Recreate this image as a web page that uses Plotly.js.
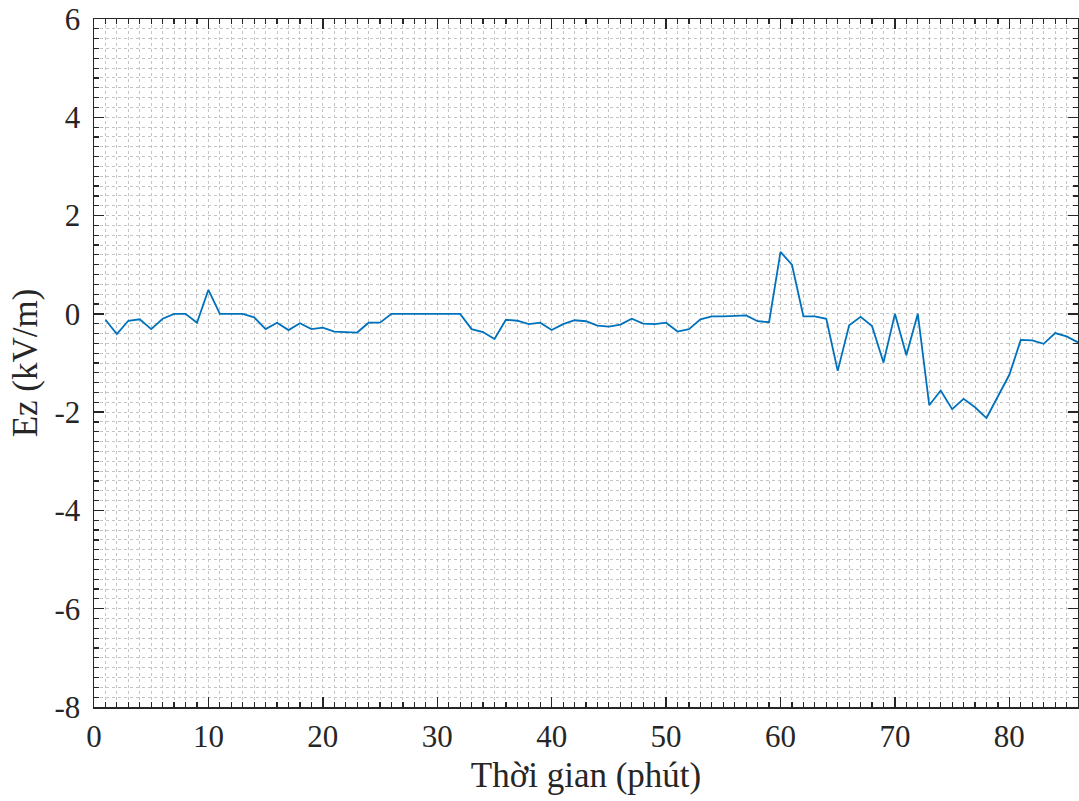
<!DOCTYPE html>
<html>
<head>
<meta charset="utf-8">
<script src="https://cdn.plot.ly/plotly-3.0.1.min.js"></script>
<style>
  html, body { margin: 0; padding: 0; background: #fff; }
  #chart { width: 1079px; height: 801px; }
</style>
</head>
<body>
<div id="chart"></div>
<script>
// Thời gian (phút)
const minutes = [
  1, 2, 3, 4, 5, 6, 7, 8, 9, 10,
  11, 12, 13, 14, 15, 16, 17, 18, 19, 20,
  21, 22, 23, 24, 25, 26, 27, 28, 29, 30,
  31, 32, 33, 34, 35, 36, 37, 38, 39, 40,
  41, 42, 43, 44, 45, 46, 47, 48, 49, 50,
  51, 52, 53, 54, 55, 56, 57, 58, 59, 60,
  61, 62, 63, 64, 65, 66, 67, 68, 69, 70,
  71, 72, 73, 74, 75, 76, 77, 78, 79, 80,
  81, 82, 83, 84, 85, 86
];

// Ez (kV/m)
const ez = [
  -0.12, -0.41, -0.14, -0.11, -0.31, -0.10, 0.00, 0.00, -0.18, 0.49,
  0.00, 0.00, 0.00, -0.07, -0.31, -0.18, -0.33, -0.19, -0.31, -0.28,
  -0.36, -0.37, -0.38, -0.18, -0.18, 0.00, 0.00, 0.00, 0.00, 0.00,
  0.00, 0.00, -0.31, -0.37, -0.51, -0.12, -0.14, -0.21, -0.18, -0.33,
  -0.21, -0.13, -0.15, -0.24, -0.26, -0.22, -0.10, -0.20, -0.21, -0.18,
  -0.36, -0.31, -0.11, -0.05, -0.05, -0.04, -0.03, -0.15, -0.17, 1.26,
  1.00, -0.05, -0.05, -0.10, -1.16, -0.23, -0.06, -0.25, -0.99, 0.00,
  -0.84, 0.00, -1.86, -1.56, -1.94, -1.73, -1.90, -2.12, -1.67, -1.24,
  -0.53, -0.54, -0.61, -0.39, -0.46, -0.58
];

const xTicks = [0, 10, 20, 30, 40, 50, 60, 70, 80];
const yTicks = [-8, -6, -4, -2, 0, 2, 4, 6];

const serif = 'Liberation Serif';
const axisColor = '#262626';
const gridColor = '#c4c4c4';

const axisCommon = {
  showline: true,
  linecolor: axisColor,
  linewidth: 1.5,
  mirror: 'allticks',
  ticks: 'inside',
  ticklen: 10,
  tickwidth: 1.5,
  tickcolor: axisColor,
  showgrid: true,
  gridcolor: gridColor,
  griddash: 'dot',
  gridwidth: 1,
  zeroline: false,
  automargin: false,
  tickfont: { family: serif, size: 31, color: axisColor },
  tickmode: 'array'
};

const trace = {
  x: minutes,
  y: ez,
  type: 'scatter',
  mode: 'lines',
  line: { color: '#0072BD', width: 1.8 },
  hoverinfo: 'x+y'
};

const layout = {
  width: 1079,
  height: 801,
  margin: { l: 94, r: 1, t: 19, b: 94 },
  paper_bgcolor: '#ffffff',
  plot_bgcolor: '#ffffff',
  showlegend: false,
  font: { family: serif, color: axisColor },
  xaxis: Object.assign({}, axisCommon, {
    range: [0, 86],
    tickvals: xTicks,
    ticktext: xTicks.map(String),
    ticklabelstandoff: 1,
    minor: {
      dtick: 1, tick0: 0,
      ticks: 'inside', ticklen: 5, tickwidth: 1.2, tickcolor: axisColor,
      showgrid: true, gridcolor: gridColor, griddash: 'dot', gridwidth: 1
    },
    title: {
      text: 'Thời gian (phút)',
      font: { family: serif, size: 35, color: axisColor },
      standoff: 10
    }
  }),
  yaxis: Object.assign({}, axisCommon, {
    range: [-8, 6],
    tickvals: yTicks,
    ticktext: yTicks.map(String),
    ticklabelstandoff: 6,
    minor: {
      dtick: 0.2, tick0: 0,
      ticks: 'inside', ticklen: 5, tickwidth: 1.2, tickcolor: axisColor,
      showgrid: true, gridcolor: gridColor, griddash: 'dot', gridwidth: 1
    },
    title: {
      text: 'Ez (kV/m)',
      font: { family: serif, size: 35, color: axisColor },
      standoff: 6
    }
  })
};

Plotly.newPlot('chart', [trace], layout, { displayModeBar: false, staticPlot: true });
</script>
</body>
</html>
